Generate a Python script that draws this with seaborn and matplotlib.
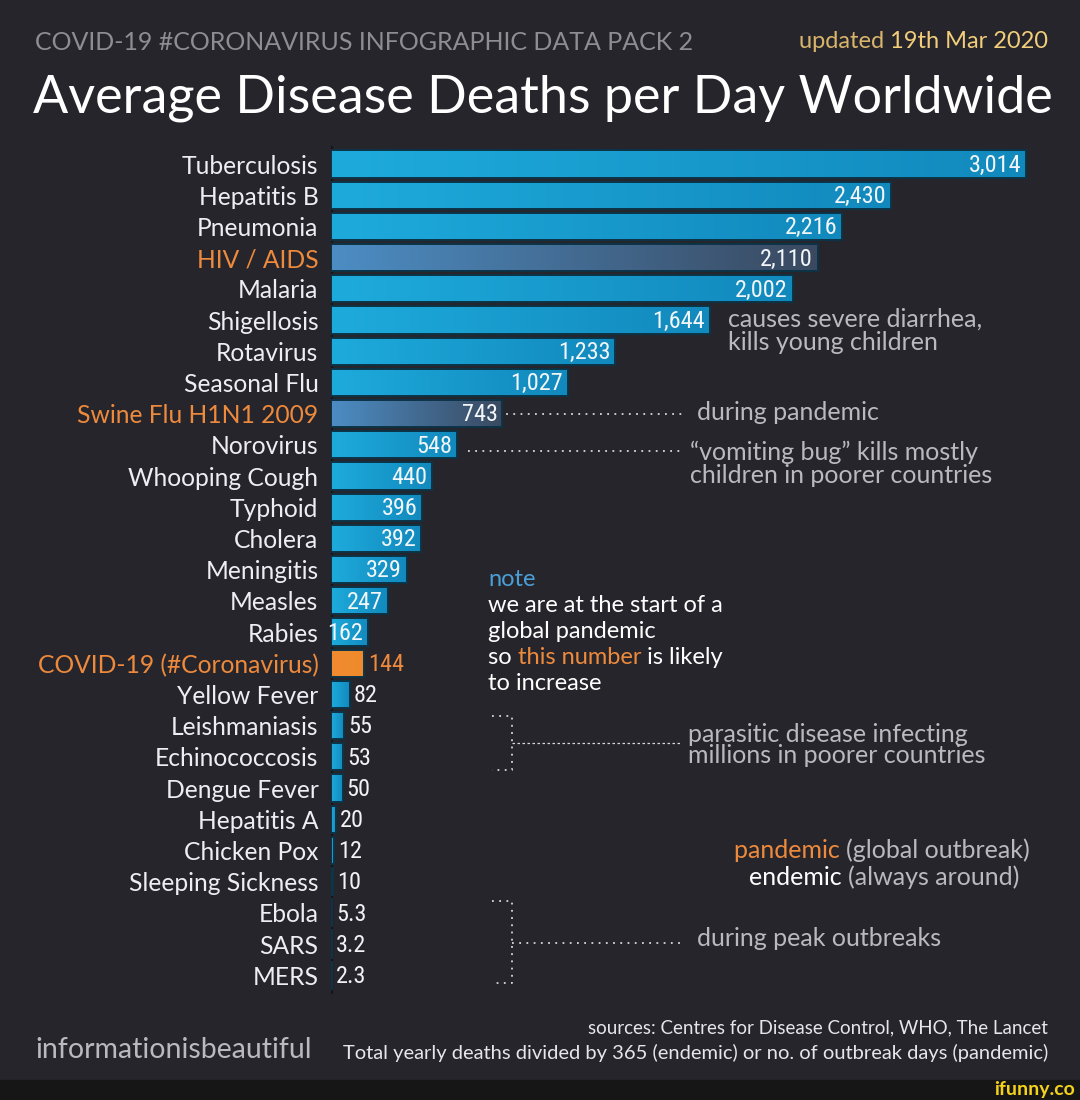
import numpy as np
import pandas as pd
import seaborn as sns
import matplotlib.pyplot as plt
from matplotlib.colors import LinearSegmentedColormap
from matplotlib.patches import Rectangle

diseases = ["Tuberculosis", "Hepatitis B", "Pneumonia", "HIV / AIDS", "Malaria",
            "Shigellosis", "Rotavirus", "Seasonal Flu", "Swine Flu H1N1 2009",
            "Norovirus", "Whooping Cough", "Typhoid", "Cholera", "Meningitis",
            "Measles", "Rabies", "COVID-19 (#Coronavirus)", "Yellow Fever",
            "Leishmaniasis", "Echinococcosis", "Dengue Fever", "Hepatitis A",
            "Chicken Pox", "Sleeping Sickness", "Ebola", "SARS", "MERS"]
deaths = [3014, 2430, 2216, 2110, 2002, 1644, 1233, 1027, 743, 548, 440, 396,
          392, 329, 247, 162, 144, 82, 55, 53, 50, 20, 12, 10, 5.3, 3.2, 2.3]
value_labels = ["3,014", "2,430", "2,216", "2,110", "2,002", "1,644", "1,233",
                "1,027", "743", "548", "440", "396", "392", "329", "247", "162",
                "144", "82", "55", "53", "50", "20", "12", "10", "5.3", "3.2", "2.3"]
group = ["endemic", "endemic", "endemic", "pandemic", "endemic", "endemic",
         "endemic", "endemic", "pandemic", "endemic", "endemic", "endemic",
         "endemic", "endemic", "endemic", "endemic", "covid", "endemic",
         "endemic", "endemic", "endemic", "endemic", "endemic", "endemic",
         "endemic", "endemic", "endemic"]

BG = "#26252c"
ORANGE = "#ee8a3c"
GREY = "#b9b9bf"
grads = {"endemic": ["#1eabdc", "#1289bd"],
         "pandemic": ["#4c8dc4", "#3a4960"],
         "covid": ["#f28b30", "#ee8a2c"]}
NUMFONT = ["Roboto Condensed", "Roboto", "DejaVu Sans"]

df = pd.DataFrame({"disease": diseases, "deaths": deaths, "group": group})

sns.set_style("dark")
plt.rcParams["font.family"] = ["Lato", "DejaVu Sans"]

W, H = 1080, 1100
fig = plt.figure(figsize=(W / 100, H / 100), dpi=100, facecolor=BG)

# overlay axes in pixel coordinates for the annotations
ov = fig.add_axes([0, 0, 1, 1], zorder=0)
ov.set_xlim(0, W)
ov.set_ylim(H, 0)
ov.axis("off")

# main bar axes: x starts at px 331, 0.2306 px per death
x0px, scale = 331, 0.2306
row0, step = 164, 31.2
ax = fig.add_axes([x0px / W, 0, (W - x0px) / W, 1], zorder=2)
ax.set_facecolor("none")

sns.barplot(data=df, y="disease", x="deaths", hue="group", orient="h",
            palette={k: v[0] for k, v in grads.items()}, dodge=False,
            width=0.87, legend=False, ax=ax, edgecolor="#0c3347", linewidth=1.4)

xlim = (0, (W - x0px) / scale)
ylim = ((H - row0) / step, -row0 / step)

# gradient fill for each bar
for p in list(ax.patches):
    w = p.get_width()
    if not np.isfinite(w) or w <= 0:
        continue
    yc = p.get_y() + p.get_height() / 2
    i = int(round(yc))
    cmap = LinearSegmentedColormap.from_list("g", grads[group[i]])
    grad = np.linspace(0, 1, 256).reshape(1, -1)
    im = ax.imshow(grad, cmap=cmap, aspect="auto", interpolation="bicubic",
                   extent=(p.get_x(), p.get_x() + w, p.get_y() + p.get_height(), p.get_y()),
                   zorder=1.5)
    im.set_clip_path(p)
    p.set_facecolor("none")
    p.set_zorder(2)
    if deaths[i] >= 150:
        ax.annotate(value_labels[i], (w, yc), xytext=(-3.5, -1), textcoords="offset points",
                    ha="right", va="center", color="#f2f6f8", fontsize=17.5,
                    family=NUMFONT, zorder=3)
    else:
        ax.annotate(value_labels[i], (w, yc), xytext=(3, -1), textcoords="offset points",
                    ha="left", va="center",
                    color=ORANGE if group[i] == "covid" else "#f2f2f4",
                    fontsize=17.5, family=NUMFONT, zorder=3)

ax.set_xlim(*xlim)
ax.set_ylim(*ylim)
ax.plot([0, 0], [-0.55, len(diseases) - 0.45], color="#15151a", lw=2.5, zorder=1)
ax.set_xlabel("")
ax.set_ylabel("")
ax.set_xticks([])
ax.tick_params(axis="y", length=0, pad=9, labelsize=17.7, labelcolor="#eeeef2")
for sp in ax.spines.values():
    sp.set_visible(False)
for t in ax.get_yticklabels():
    if group[diseases.index(t.get_text())] != "endemic":
        t.set_color(ORANGE)
ax.grid(False)

# header
ov.text(35, 42, "COVID-19 #CORONAVIRUS INFOGRAPHIC DATA PACK 2", fontsize=18,
        color="#8d8d93", va="center", ha="left")
d = ov.text(1048, 42, "19th Mar 2020", fontsize=17, color="#f2cd7a", va="center", ha="right")
ov.annotate("updated ", xycoords=d, xy=(0, 0), va="bottom", ha="right",
            fontsize=17, color="#d8b56a")
ov.text(33, 98, "Average Disease Deaths per Day Worldwide", fontsize=37.5,
        color="white", va="center", ha="left")

# annotations
afs = 18
ov.text(728, 331, "causes severe diarrhea,\nkills young children", fontsize=afs,
        color=GREY, va="center", ha="left", linespacing=1.0)
dot = dict(color="#d8d8d8", lw=1.3, linestyle=(0, (1, 3)))
ov.plot([470, 682], [414, 414], **dot)
ov.text(697, 413, "during pandemic", fontsize=afs, color=GREY,
        va="center", ha="left")
ov.plot([468, 682], [451, 451], **dot)
ov.text(690, 464, "\u201cvomiting bug\u201d kills mostly\nchildren in poorer countries",
        fontsize=afs, color=GREY, va="center", ha="left", linespacing=1.0)

nfs = 17
ov.text(488, 580, "note", fontsize=nfs, color="#4a9fd8", va="center", ha="left")
ov.text(488, 606, "we are at the start of a", fontsize=nfs, color="white",
        va="center", ha="left")
ov.text(488, 632, "global pandemic", fontsize=nfs, color="white",
        va="center", ha="left")
t1 = ov.text(488, 658, "so ", fontsize=nfs, color="white", va="center", ha="left")
t2 = ov.annotate("this number", xycoords=t1, xy=(1, 0), va="bottom", ha="left",
                 fontsize=nfs, color=ORANGE)
ov.annotate(" is likely", xycoords=t2, xy=(1, 0), va="bottom", ha="left",
            fontsize=nfs, color="white")
ov.text(488, 684, "to increase", fontsize=nfs, color="white", va="center", ha="left")

# bracket for parasitic diseases
ov.plot([492, 512, 512, 492], [716, 716, 770, 770], **dot)
ov.plot([512, 682], [743, 743], color="#d8d8d8", lw=0.9, linestyle=(0, (2, 2)))
ov.text(688, 745, "parasitic disease infecting\nmillions in poorer countries",
        fontsize=afs, color=GREY, va="center", ha="left", linespacing=0.9)

# pandemic / endemic key
k1 = ov.text(1030, 850, "(global outbreak)", fontsize=afs, color=GREY,
             va="center", ha="right")
ov.annotate("pandemic ", xycoords=k1, xy=(0, 0), va="bottom", ha="right",
            fontsize=afs, color=ORANGE)
k2 = ov.text(1019, 877, "(always around)", fontsize=afs, color=GREY,
             va="center", ha="right")
ov.annotate("endemic ", xycoords=k2, xy=(0, 0), va="bottom", ha="right",
            fontsize=afs, color="white")

# bracket for peak outbreaks
ov.plot([492, 512, 512, 492], [901, 901, 983, 983], **dot)
ov.plot([512, 682], [943, 943], **dot)
ov.text(697, 939, "during peak outbreaks", fontsize=afs, color=GREY,
        va="center", ha="left")

# footer
ov.text(35, 1050, "informationisbeautiful", fontsize=20.5, color="#b9b9be",
        va="center", ha="left")
ov.text(1048, 1028, "sources: Centres for Disease Control, WHO, The Lancet",
        fontsize=13.5, color="#e6e6ea", va="center", ha="right")
ov.text(1048, 1053, "Total yearly deaths divided by 365 (endemic) or no. of outbreak days (pandemic)",
        fontsize=14.5, color="#e6e6ea", va="center", ha="right")

# bottom strip
ov.add_patch(Rectangle((0, 1080), W, 20, color="#161616", zorder=0))
ov.text(1075, 1090, "ifunny.co", fontsize=14, color="#f4d21c", fontweight="bold",
        va="center", ha="right")

fig.savefig("out.png", dpi=100, facecolor=BG)
